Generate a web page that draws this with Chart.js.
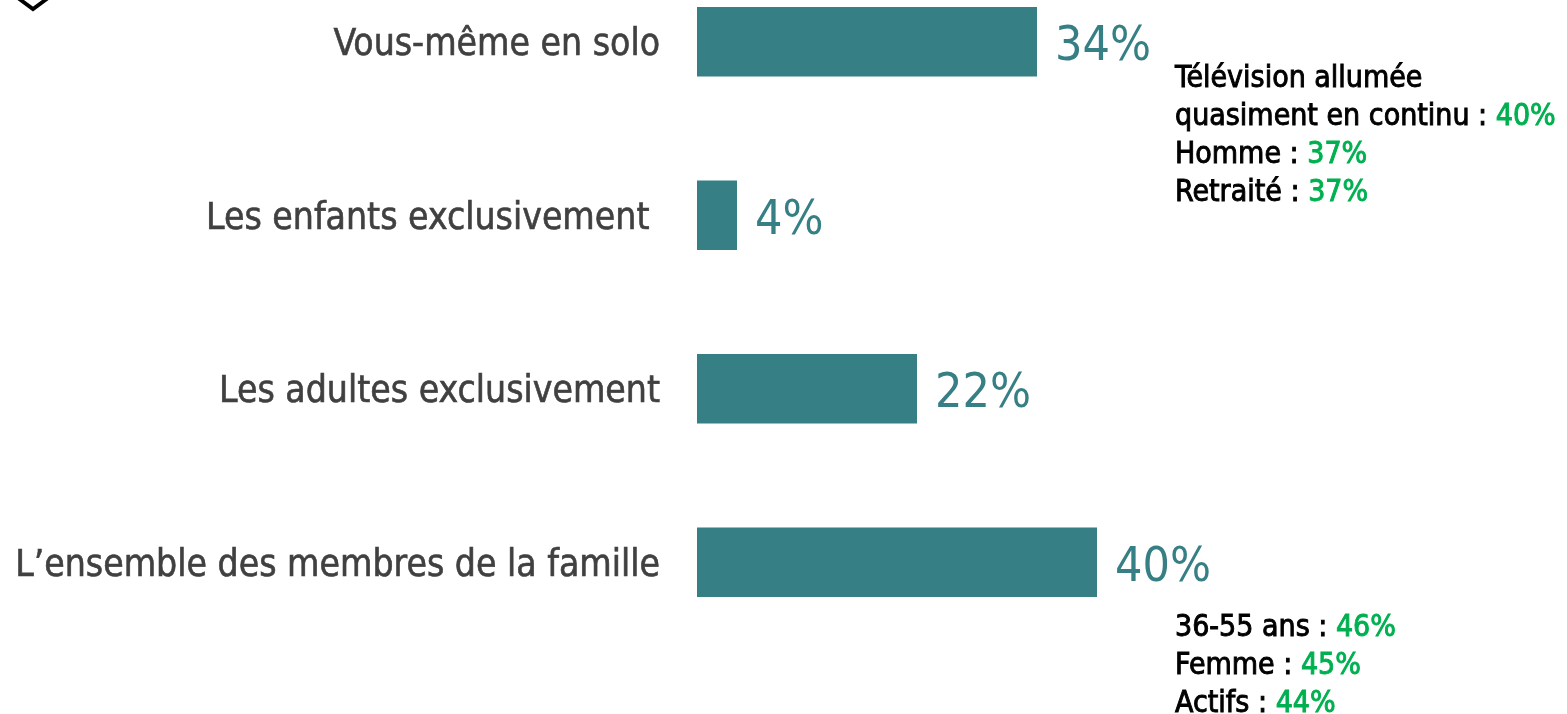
<!DOCTYPE html>
<html>
<head>
<meta charset="utf-8">
<script src="https://cdn.jsdelivr.net/npm/chart.js@4"></script>
<style>
  html, body { margin: 0; padding: 0; background: #fff; overflow: hidden; }
  #wrap { position: absolute; left: 0; top: -45px; width: 1567px; height: 759px; }
</style>
</head>
<body>
<div id="wrap"><canvas id="myChart"></canvas></div>
<script>
const categories = [
    'Vous-même en solo',
    'Les enfants exclusivement ',
    'Les adultes exclusivement',
    'L\u2019ensemble des membres de la famille'
];
const values = [34, 4, 22, 40];
const valueLabels = ['34%', '4%', '22%', '40%'];

// side notes: [label, green value]
const notesTop = [
    ['Télévision allumée', ''],
    ['quasiment en continu : ', '40%'],
    ['Homme : ', '37%'],
    ['Retraité : ', '37%']
];
const notesBottom = [
    ['36-55 ans : ', '46%'],
    ['Femme : ', '45%'],
    ['Actifs : ', '44%']
];

const teal = '#367F84';
const green = '#00B050';
const fontFamily = '"DejaVu Sans Condensed", "DejaVu Sans", sans-serif';

const extras = {
    id: 'extras',
    afterDatasetsDraw(chart) {
        const c = chart.ctx;
        const meta = chart.getDatasetMeta(0);
        const xs = chart.scales.x;

        // big value labels at bar ends
        c.save();
        c.fillStyle = teal;
        c.font = '48px ' + fontFamily;
        c.textBaseline = 'middle';
        c.textAlign = 'left';
        meta.data.forEach((bar, i) => {
            c.fillText(valueLabels[i], bar.x + 18, bar.y + 6);
        });

        // notes (a thin stroke gives them a medium weight)
        function drawText(txt, x, y, col) {
            c.fillStyle = col;
            c.strokeStyle = col;
            c.lineWidth = 0.9;
            c.strokeText(txt, x, y);
            c.fillText(txt, x, y);
        }
        function drawNotes(list, startY) {
            c.font = '30px ' + fontFamily;
            list.forEach((row, i) => {
                const y = startY + i * 38;
                const x = xs.getPixelForValue(47.8);
                drawText(row[0], x, y, '#000');
                if (row[1]) {
                    const w = c.measureText(row[0]).width;
                    drawText(row[1], x + w, y, green);
                }
            });
        }
        drawNotes(notesTop, meta.data[0].y + 37);
        drawNotes(notesBottom, meta.data[3].y + 66);

        // partial icon in the corner
        c.strokeStyle = '#000';
        c.lineWidth = 4;
        c.beginPath();
        c.moveTo(18, 43);
        c.lineTo(33, 54);
        c.lineTo(48, 43);
        c.stroke();
        c.restore();
    }
};

new Chart(document.getElementById('myChart'), {
    type: 'bar',
    data: {
        labels: categories,
        datasets: [{
            data: values,
            backgroundColor: teal,
            borderWidth: 0,
            barPercentage: 0.4,
            categoryPercentage: 1
        }]
    },
    options: {
        indexAxis: 'y',
        responsive: true,
        maintainAspectRatio: false,
        animation: false,
        layout: { padding: { top: 0, bottom: 65, left: 0, right: 0 } },
        plugins: {
            legend: { display: false },
            tooltip: { enabled: false }
        },
        scales: {
            x: {
                display: false,
                min: 0,
                max: 87
            },
            y: {
                grid: { display: false, drawTicks: false },
                border: { display: false },
                ticks: {
                    padding: 37,
                    labelOffset: 4,
                    color: '#404040',
                    textStrokeColor: '#404040',
                    textStrokeWidth: 0.6,
                    font: { family: fontFamily, size: 37 }
                },
                afterFit(scale) {
                    scale.width = 697;
                    scale.paddingTop = 0;
                    scale.paddingBottom = 0;
                }
            }
        }
    },
    plugins: [extras]
});
</script>
</body>
</html>
